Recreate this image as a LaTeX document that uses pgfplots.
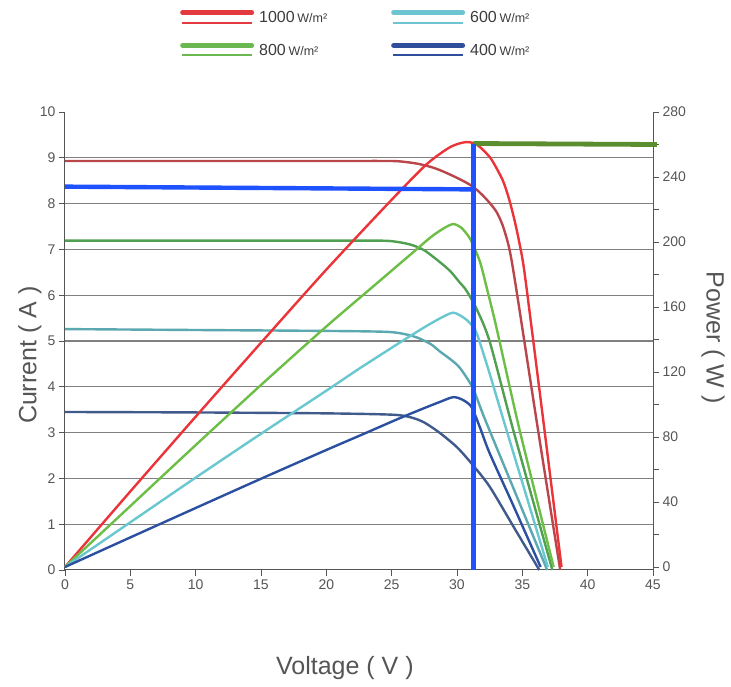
\documentclass[border=0pt]{standalone}
\usepackage{pgfplots}
\pgfplotsset{compat=1.18}
\usepackage{fontspec}
\setmainfont{Liberation Sans}
\definecolor{pred}{RGB}{235,52,58}
\definecolor{ired}{RGB}{185,70,75}
\definecolor{pgreen}{RGB}{108,190,70}
\definecolor{igreen}{RGB}{80,160,82}
\definecolor{pcyan}{RGB}{105,199,208}
\definecolor{iteal}{RGB}{92,168,176}
\definecolor{pblue}{RGB}{44,80,160}
\definecolor{islate}{RGB}{64,90,140}
\definecolor{annblue}{RGB}{30,82,255}
\definecolor{anngreen}{RGB}{90,142,46}
\definecolor{gridgray}{RGB}{128,128,128}
\definecolor{txtgray}{RGB}{85,85,85}
\definecolor{lgtxt}{RGB}{60,60,60}
\definecolor{lgred}{RGB}{226,58,63}
\definecolor{lggreen}{RGB}{106,184,79}
\definecolor{lgcyan}{RGB}{108,197,208}
\definecolor{lgblue}{RGB}{47,78,156}

\pgfplotsset{
  common/.style={
    at={(0,0)}, anchor=south west,
    scale only axis, width=588pt, height=458pt,
    xmin=0, xmax=45,
    clip=false,
    tick align=outside,
    major tick length=6pt, minor tick length=6pt,
    tick style={txtgray, line width=0.9pt},
    axis line style={txtgray, line width=1pt},
    tick label style={font=\fontsize{14}{16}\selectfont, text=txtgray},
    /pgf/number format/assume math mode=true,
  },
  curve/.style={smooth, tension=0.45, line width=2.4pt, no markers},
}

\begin{document}
\begin{tikzpicture}
\useasboundingbox (-65pt,-117pt) rectangle (666pt,570pt);

% ---------- current axis (left) ----------
\begin{axis}[common,
  ymin=0, ymax=10,
  axis x line*=bottom, axis y line*=left,
  xtick={0,5,...,45}, ytick={0,1,...,10},
  extra y ticks={1,...,9},
  extra y tick labels={,,,,,,,,},
  extra y tick style={grid=major, major tick length=0pt},
  major grid style={gridgray, line width=1.2pt},
  legend columns=2,
  legend style={at={(0.1955,1.223)}, anchor=north west, draw=none, fill=none,
    inner sep=0pt, row sep=18pt,
    nodes={inner sep=1pt, text=lgtxt},
    /tikz/every odd column/.append style={column sep=4pt}},
]
\addlegendimage{legend image code/.code={\draw[lgred,line width=5pt,line cap=round](2.5pt,5pt)--(71.5pt,5pt);\draw[lgred,line width=2pt](2pt,-5pt)--(72pt,-5pt);}}
\addlegendentry{\makebox[131pt][l]{\fontsize{16}{17}\selectfont 1000\,{\fontsize{12.5}{14}\selectfont W/m²}}}
\addlegendimage{legend image code/.code={\draw[lgcyan,line width=5pt,line cap=round](2.5pt,5pt)--(71.5pt,5pt);\draw[lgcyan,line width=2pt](2pt,-5pt)--(72pt,-5pt);}}
\addlegendentry{\makebox[100pt][l]{\fontsize{16}{17}\selectfont 600\,{\fontsize{12.5}{14}\selectfont W/m²}}}
\addlegendimage{legend image code/.code={\draw[lggreen,line width=5pt,line cap=round](2.5pt,5pt)--(71.5pt,5pt);\draw[lggreen,line width=2pt](2pt,-5pt)--(72pt,-5pt);}}
\addlegendentry{\makebox[131pt][l]{\fontsize{16}{17}\selectfont 800\,{\fontsize{12.5}{14}\selectfont W/m²}}}
\addlegendimage{legend image code/.code={\draw[lgblue,line width=5pt,line cap=round](2.5pt,5pt)--(71.5pt,5pt);\draw[lgblue,line width=2pt](2pt,-5pt)--(72pt,-5pt);}}
\addlegendentry{\makebox[100pt][l]{\fontsize{16}{17}\selectfont 400\,{\fontsize{12.5}{14}\selectfont W/m²}}}

% I-V curves (A)
\addplot[curve, ired] coordinates {
 (0,8.93) (10,8.93) (20,8.93) (24.9,8.93) (26,8.91) (27,8.87) (28,8.80)
 (28.7,8.73) (29.5,8.63) (30.3,8.52) (31.0,8.41) (31.6,8.28) (32.3,8.08)
 (33.0,7.83) (33.5,7.52) (34.0,7.02) (34.5,6.20) (36.2,3.06) (37.9,0)};
\addplot[curve, igreen] coordinates {
 (0,7.19) (10,7.19) (20,7.19) (24.3,7.19) (25.5,7.16) (26.5,7.10) (27.5,6.98)
 (28.7,6.72) (29.5,6.52) (30.2,6.28) (30.7,6.11) (31.5,5.70) (32.5,4.99)
 (34.3,3.06) (37.3,0)};
\addplot[curve, iteal] coordinates {
 (0,5.26) (10,5.24) (20,5.22) (24.6,5.20) (26,5.15) (27,5.07) (28,4.93)
 (28.7,4.77) (29.5,4.60) (30.2,4.42) (31.2,3.98) (32.1,3.32) (34.5,1.66) (36.9,0)};
\addplot[curve, islate] coordinates {
 (0,3.45) (10,3.44) (20,3.42) (25.1,3.39) (26.5,3.33) (27.5,3.22) (28.7,2.99)
 (30.0,2.68) (31.1,2.33) (32.5,1.82) (34.4,0.91) (36.3,0)};

\node[rotate=90, font=\fontsize{25}{27}\selectfont, text=txtgray] at (rel axis cs:-0.0595,0.469) {Current ( A )};
\node[font=\fontsize{25}{27}\selectfont, text=txtgray] at (rel axis cs:0.476,-0.214) {Voltage ( V )};
\end{axis}

% ---------- power axis (right) ----------
\begin{axis}[common,
  ymin=-1.85, ymax=280,
  axis x line=none, axis y line*=right,
  ytick={0,40,...,280}, minor ytick={20,60,...,260},
]
\addplot[curve, pred] coordinates {
 (0,0) (5,46.5) (10,92.5) (15,138) (20,183) (25,226) (27.7,248)
 (29.5,258.5) (30.7,261.5) (31.5,260) (32.2,255) (32.7,250) (33.5,238)
 (34.0,226) (34.5,210) (35.0,190) (35.35,170) (36.7,84) (38.0,0)};
\addplot[curve, pgreen] coordinates {
 (0,0) (5,37.5) (10,75) (15,112) (20,148) (24,175.5) (26.4,192)
 (28,203) (29,208.5) (29.7,211) (30.3,209) (31.0,202) (31.75,188) (32.3,171)
 (33.0,148) (34.8,84) (37.4,0)};
\addplot[curve, pcyan] coordinates {
 (0,0) (5,27.5) (10,55) (15,82) (20,108.5) (22.6,122.5) (25.9,139.5)
 (27.5,147.5) (28.7,153) (29.7,156.5) (30.5,153.5) (31.0,150) (31.5,144)
 (32.5,119) (33.5,92) (36.95,0)};
\addplot[curve, pblue] coordinates {
 (0,0) (5,18.2) (10,36.3) (15,54.3) (20,72) (22.6,81) (25.6,91.5)
 (27.5,97.8) (28.7,101.6) (29.7,104.5) (30.4,103) (31.1,98.6) (31.75,86)
 (32.5,70) (34.3,38) (36.4,0)};
% maximum power level
\addplot[anngreen, line width=4.8pt, no markers] coordinates {(31.25,260.6) (45.3,260.0)};

\node[rotate=-90, font=\fontsize{25}{27}\selectfont, text=txtgray] at (rel axis cs:1.102,0.507) {Power ( W )};
\end{axis}

% ---------- operating point (current units) ----------
\begin{axis}[common, ymin=0, ymax=10, hide axis]
\addplot[annblue, line width=4.4pt, no markers] coordinates {(0,8.37) (31.25,8.31)};
\addplot[annblue, line width=4.8pt, no markers] coordinates {(31.25,0) (31.25,9.31)};
\end{axis}
\end{tikzpicture}
\end{document}
